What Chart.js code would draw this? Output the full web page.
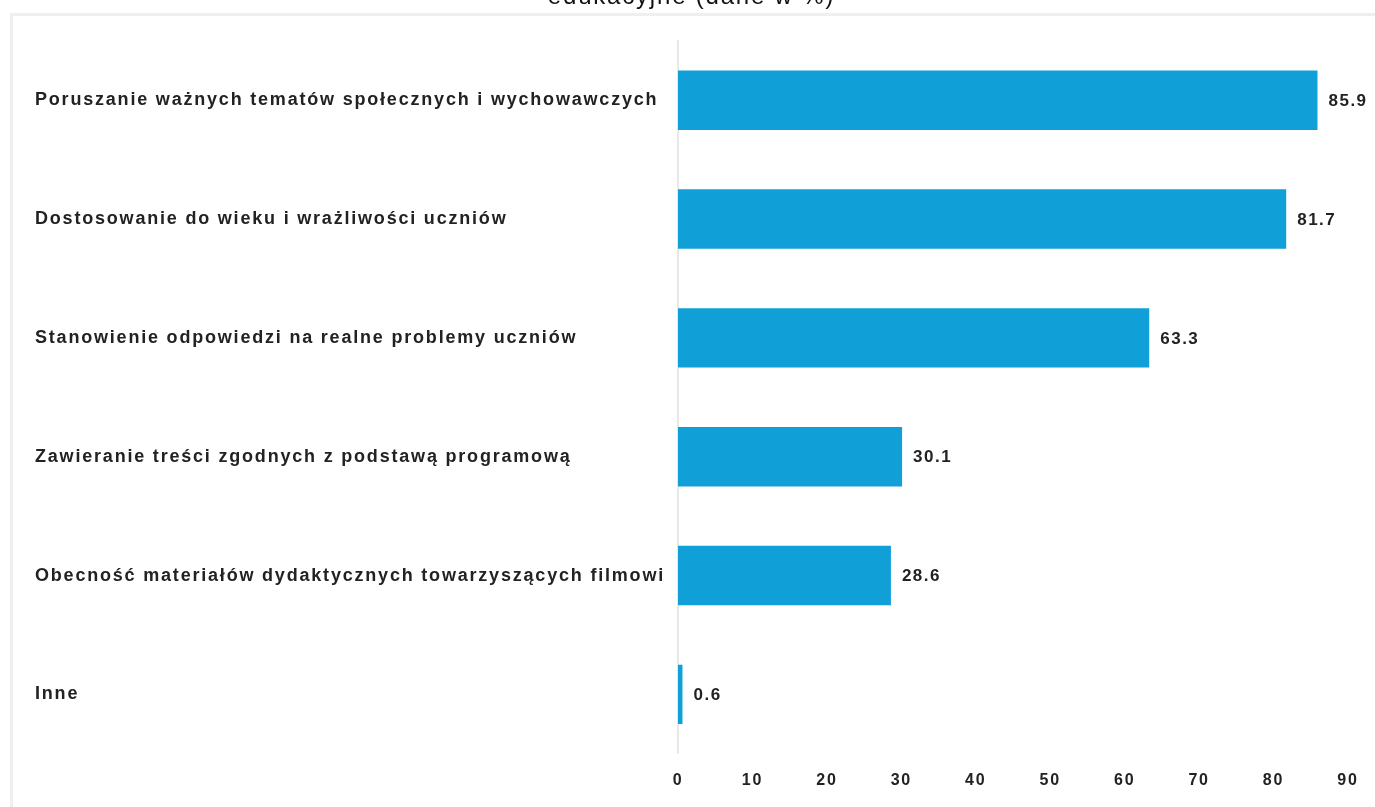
<!DOCTYPE html>
<html>
<head>
<meta charset="UTF-8">
<title>Cechy filmów edukacyjnych</title>
<script src="https://cdn.jsdelivr.net/npm/chart.js@4.4.1/dist/chart.umd.min.js"></script>
<style>
  html, body { margin:0; padding:0; background:#fff; overflow:hidden; }
  #frame { position:absolute; left:10px; top:13px; width:1400px; height:820px; border:3px solid #efefef; box-sizing:border-box; }
  #wrap { position:absolute; left:0; top:-20px; width:1375px; height:827px; }
</style>
</head>
<body>
<div id="frame"></div>
<div id="wrap"><canvas id="myChart"></canvas></div>

<script>
	// dane z wykresu (w %)
	const categories = [
		"Poruszanie ważnych tematów społecznych i wychowawczych",
		"Dostosowanie do wieku i wrażliwości uczniów",
		"Stanowienie odpowiedzi na realne problemy uczniów",
		"Zawieranie treści zgodnych z podstawą programową",
		"Obecność materiałów dydaktycznych towarzyszących filmowi",
		"Inne"
	];
	const values = [85.9, 81.7, 63.3, 30.1, 28.6, 0.6];
	const titleText = "edukacyjne (dane w %)";
	const barColor = "#109FD7";

	// odstępy między literami jak na oryginale
	const spacing = {
		id: 'spacing',
		beforeDraw(chart) { chart.ctx.letterSpacing = '1.8px'; }
	};

	// wartości na końcu słupków
	const valueLabels = {
		id: 'valueLabels',
		afterDatasetsDraw(chart) {
			const ctx = chart.ctx;
			const meta = chart.getDatasetMeta(0);
			ctx.save();
			ctx.letterSpacing = '1.5px';
			ctx.font = "bold 17px 'Liberation Sans'";
			ctx.fillStyle = "#222";
			ctx.textAlign = "left";
			ctx.textBaseline = "middle";
			meta.data.forEach((bar, i) => {
				ctx.fillText(String(values[i]), bar.x + 11, bar.y + 1);
			});
			ctx.restore();
		}
	};

	new Chart("myChart", {
	  type: "bar",
	  data: {
	    labels: categories,
	    datasets: [{
	      backgroundColor: barColor,
	      data: values,
	      barPercentage: 0.5,
	      categoryPercentage: 1
	    }]
	  },
	  options: {
	    indexAxis: 'y',
	    responsive: true,
	    maintainAspectRatio: false,
	    animation: false,
	    layout: { padding: { left: 35, right: 27, top: 0, bottom: 0 } },
	    plugins: {
	      legend: {display: false},
	      tooltip: {enabled: false},
	      title: {
	        display: true,
	        text: titleText,
	        color: "#111",
	        font: { family: "'Liberation Sans'", size: 24, weight: 'normal' },
	        padding: { top: 3, bottom: 29 }
	      }
	    },
	    scales: {
	      x: {
	        min: 0, max: 90,
	        ticks: { stepSize: 10, padding: 17, color: "#222", font: { family: "'Liberation Sans'", size: 16, weight: 'bold' } },
	        grid: { display: false, drawTicks: false },
	        border: { display: false }
	      },
	      y: {
	        ticks: { crossAlign: 'far', color: "#222", font: { family: "'Liberation Sans'", size: 18, weight: 'bold' } },
	        grid: { display: false, drawTicks: false },
	        border: { display: true, color: "#e8e8e8", width: 2 },
	        afterFit(scale) { scale.width = 643; }
	      }
	    }
	  },
	  plugins: [spacing, valueLabels]
	});
</script>
</body>
</html>
